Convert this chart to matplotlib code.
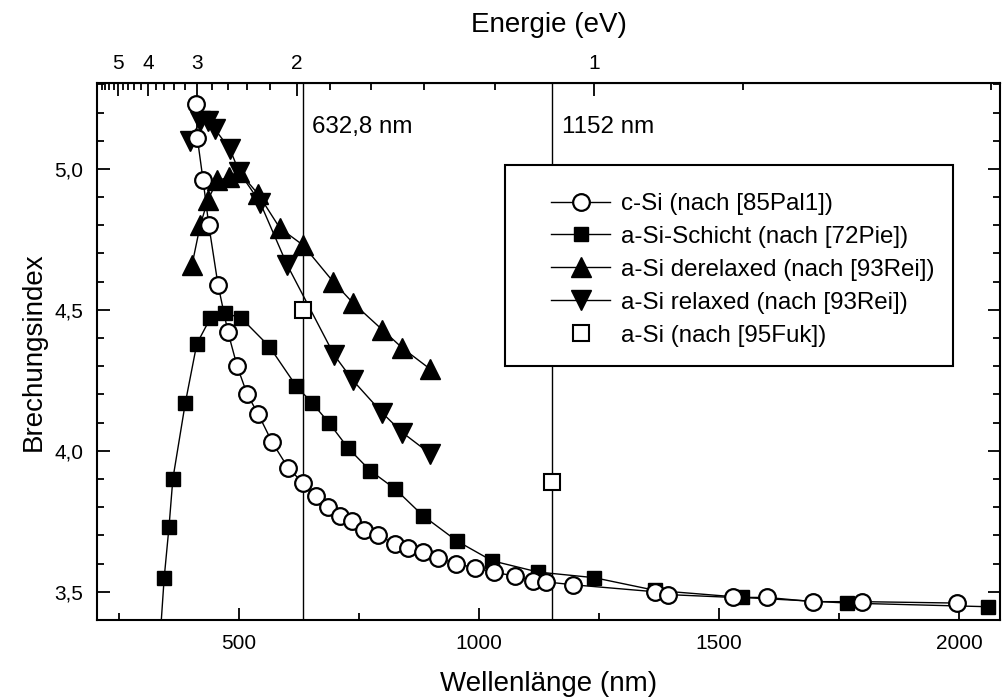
import matplotlib
matplotlib.use("Agg")
import matplotlib.pyplot as plt
from matplotlib.ticker import FuncFormatter, MultipleLocator, FixedLocator
from matplotlib.patches import Rectangle
import numpy as np

plt.rcParams['font.family'] = ['Liberation Sans', 'DejaVu Sans']

# c-Si (nach [85Pal1])
csi_wl = [410, 413, 425, 437, 456, 477, 496, 517, 540, 569, 602, 633, 660, 685, 710,
          735, 760, 790, 825, 852, 883, 915, 952, 992, 1031, 1075, 1112, 1140, 1195,
          1367, 1394, 1529, 1600, 1696, 1798, 1996]
csi_n = [5.23, 5.11, 4.96, 4.80, 4.59, 4.42, 4.30, 4.20, 4.13, 4.03, 3.94, 3.886, 3.84, 3.80, 3.77,
         3.75, 3.72, 3.70, 3.67, 3.655, 3.64, 3.62, 3.60, 3.585, 3.57, 3.555, 3.54, 3.535, 3.525,
         3.50, 3.49, 3.48, 3.48, 3.465, 3.465, 3.46]

# a-Si-Schicht (nach [72Pie])
asi_wl = [330, 344, 354, 362, 388, 412, 440, 470, 505, 563, 619, 652, 687, 727, 773,
          825, 883, 954, 1027, 1123, 1240, 1367, 1548, 1767, 2060]
asi_n = [3.20, 3.55, 3.73, 3.90, 4.17, 4.38, 4.47, 4.49, 4.47, 4.37, 4.23, 4.17, 4.10, 4.01, 3.93,
         3.865, 3.77, 3.68, 3.61, 3.57, 3.55, 3.505, 3.48, 3.46, 3.447]

# a-Si derelaxed (nach [93Rei])
der_wl = [402, 419, 435, 455, 480, 500, 540, 585, 633, 696, 737, 798, 840, 898]
der_n = [4.66, 4.80, 4.89, 4.96, 4.97, 4.99, 4.91, 4.79, 4.73, 4.60, 4.525, 4.43, 4.365, 4.29]

# a-Si relaxed (nach [93Rei])
rel_wl = [398, 419, 435, 450, 481, 500, 544, 600, 698, 737, 798, 840, 898]
rel_n = [5.10, 5.17, 5.17, 5.14, 5.07, 4.99, 4.88, 4.66, 4.34, 4.25, 4.135, 4.065, 3.99]

# a-Si (nach [95Fuk])
fuk_wl = [632.8, 1152]
fuk_n = [4.50, 3.89]

vlines = [632.8, 1152]
vline_labels = ["632,8 nm", "1152 nm"]

fig = plt.figure(figsize=(10.03, 6.97), dpi=100)
ax = fig.add_axes([0.0967, 0.1105, 0.9003, 0.7705])

for xv in vlines:
    ax.axvline(xv, color='black', lw=1.0, zorder=1)

lw = 1.0
ax.plot(asi_wl, asi_n, '-s', color='black', lw=lw, ms=10.5, mfc='black', mec='black',
        label='a-Si-Schicht (nach [72Pie])', zorder=3)
ax.plot(csi_wl, csi_n, '-o', color='black', lw=lw, ms=12, mfc='white', mec='black', mew=1.6,
        label='c-Si (nach [85Pal1])', zorder=4)
ax.plot(der_wl, der_n, '-^', color='black', lw=lw, ms=14, mfc='black', mec='black',
        label='a-Si derelaxed (nach [93Rei])', zorder=3)
ax.plot(rel_wl, rel_n, '-v', color='black', lw=lw, ms=14, mfc='black', mec='black',
        label='a-Si relaxed (nach [93Rei])', zorder=3)
ax.plot(fuk_wl, fuk_n, 's', color='black', ms=11, mfc='white', mec='black', mew=1.5,
        label='a-Si (nach [95Fuk])', zorder=5)

ax.set_xlim(204, 2085)
ax.set_ylim(3.40, 5.305)

ax.xaxis.set_major_locator(FixedLocator([500, 1000, 1500, 2000]))
ax.xaxis.set_minor_locator(FixedLocator([250, 750, 1250, 1750]))
ax.yaxis.set_major_locator(MultipleLocator(0.5))
ax.yaxis.set_minor_locator(MultipleLocator(0.1))
ax.yaxis.set_major_formatter(FuncFormatter(lambda v, p: f"{v:.1f}".replace('.', ',')))

ax.tick_params(which='both', direction='in', top=False, right=True, labelsize=15, width=1.3)
ax.tick_params(which='major', length=9)
ax.tick_params(which='minor', length=5)
ax.tick_params(axis='x', which='major', pad=10)
ax.tick_params(axis='y', which='major', pad=10)
for s in ax.spines.values():
    s.set_linewidth(1.5)

ax.set_xlabel('Wellenlänge (nm)', fontsize=20, labelpad=13)
ax.set_ylabel('Brechungsindex', fontsize=20, labelpad=5)

# top energy axis
def wl2e(x):
    x = np.asarray(x, dtype=float)
    with np.errstate(divide='ignore'):
        return 1240.0 / x
secax = ax.secondary_xaxis('top', functions=(wl2e, wl2e))
secax.xaxis.set_major_locator(FixedLocator([1, 2, 3, 4, 5]))
minor_e = [round(0.6 + 0.2 * i, 1) for i in range(28)]
minor_e = [e for e in minor_e if abs(e - round(e)) > 1e-6]
secax.xaxis.set_minor_locator(FixedLocator(minor_e))
secax.xaxis.set_major_formatter(FuncFormatter(lambda v, p: f"{v:.0f}"))
secax.tick_params(which='both', direction='in', labelsize=15, width=1.3)
secax.tick_params(which='major', length=9, pad=7)
secax.tick_params(which='minor', length=5)
secax.set_xlabel('Energie (eV)', fontsize=20, labelpad=16)

for xv, t in zip(vlines, vline_labels):
    ax.text(xv + 20, 5.15, t, fontsize=17.4, va='center', ha='left')

# legend: frame drawn separately
ax.add_patch(Rectangle((0.452, 0.473), 0.4965, 0.374, transform=ax.transAxes,
                       fill=True, facecolor='white', edgecolor='black', lw=1.5, zorder=6))
h, l = ax.get_legend_handles_labels()
order = [1, 0, 2, 3, 4]
leg = ax.legend([h[i] for i in order], [l[i] for i in order], loc='upper left',
                bbox_to_anchor=(0.503, 0.795), fontsize=17.4, frameon=False,
                borderpad=0, labelspacing=0.45, handlelength=2.45,
                handletextpad=0.42, borderaxespad=0)
leg.set_zorder(7)

fig.savefig('out.png', dpi=100)
